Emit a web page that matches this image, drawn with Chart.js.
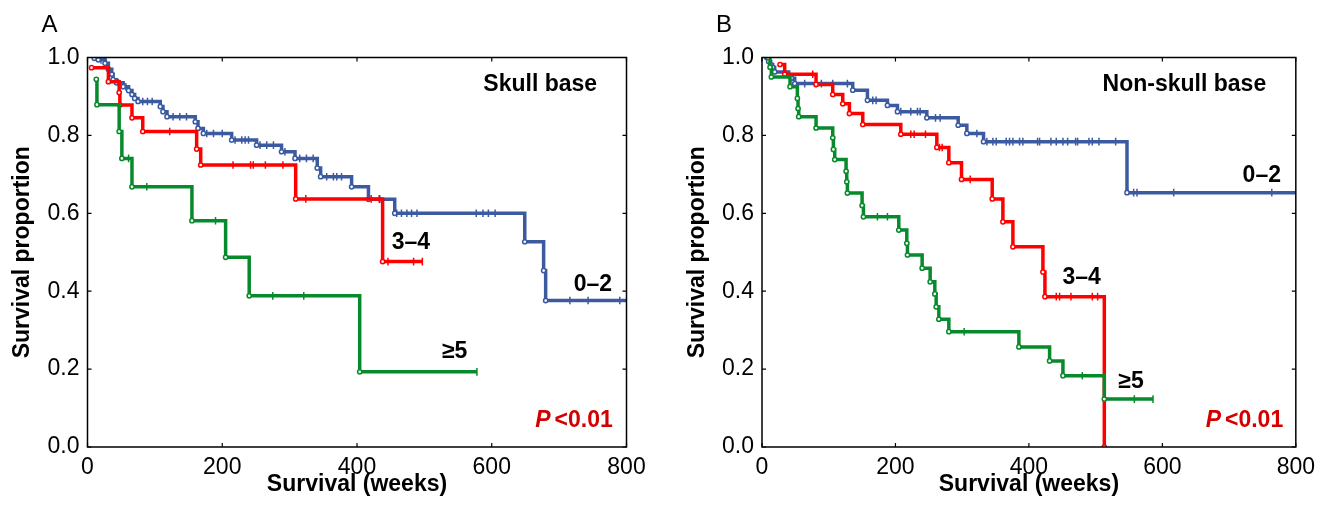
<!DOCTYPE html>
<html><head><meta charset="utf-8">
<script src="https://cdn.jsdelivr.net/npm/chart.js@4.4.1/dist/chart.umd.min.js"></script>
<style>
html,body{margin:0;padding:0;background:#fff;}
#wrap{position:relative;width:1322px;height:506px;overflow:hidden;background:#fff;}
canvas{position:absolute;top:0;}
</style></head><body>
<div id="wrap">
<canvas id="cA" width="661" height="506" style="left:0px;width:661px;height:506px"></canvas>
<canvas id="cB" width="661" height="506" style="left:661px;width:661px;height:506px"></canvas>
</div>
<script>
// ---------- tick labels ----------
const xTicks = [0, 200, 400, 600, 800];
const yTicks = [0, 0.2, 0.4, 0.6, 0.8, 1.0];
const groupNames = ['0–2', '3–4', '≥5'];

// ---------- Panel A: Skull base ----------
const aG02_t = [10,16,26,31,36,38,43,53,61,66,70,75,108,112,118,160,164,172,214,251,288,308,341,346,392,417,456,649,677,680];
const aG02_s = [0.998,0.994,0.985,0.97,0.957,0.943,0.935,0.925,0.915,0.905,0.895,0.887,0.874,0.861,0.848,0.835,0.818,0.805,0.788,0.775,0.758,0.741,0.716,0.694,0.668,0.636,0.600,0.527,0.453,0.376];
const aG02_cens = [20,28,46,57,82,89,96,127,137,147,177,187,200,219,229,234,239,256,266,276,293,315,325,335,355,365,370,377,434,459,466,474,481,489,577,587,595,605,716,743,790];
const aG02_end = 800;

const aG34_t = [6,31,47,48,66,82,162,168,309,438];
const aG34_s = [0.974,0.938,0.91,0.878,0.845,0.81,0.765,0.724,0.637,0.476];
const aG34_cens = [122,216,242,246,264,290,324,421,433,446,484,497];
const aG34_end = 497;

const aG5_t = [13,14,47,51,66,155,205,240,404];
const aG5_s = [0.944,0.879,0.81,0.741,0.668,0.581,0.487,0.388,0.193];
const aG5_cens = [61,88,190,275,321,578];
const aG5_end = 578;

// ---------- Panel B: Non-skull base ----------
const bG02_t = [7,10,13,16,19,40,44,49,136,158,188,203,247,294,307,332,547];
const bG02_s = [1.0,0.99,0.982,0.975,0.963,0.955,0.947,0.933,0.916,0.89,0.877,0.861,0.845,0.826,0.805,0.784,0.653];
const bG02_cens = [64,81,89,106,128,166,171,208,223,233,237,260,267,322,337,346,351,366,371,376,386,391,413,416,433,441,451,458,470,473,490,495,505,530,557,562,617,764];
const bG02_end = 800;

const bG34_t = [27,34,81,106,121,131,151,208,262,280,299,345,361,376,421,424,513];
const bG34_s = [0.982,0.957,0.931,0.905,0.881,0.856,0.828,0.803,0.769,0.73,0.687,0.637,0.578,0.514,0.449,0.386,0];
const bG34_cens = [76,223,228,245,266,270,312,441,446,463,495,503];
const bG34_end = 513;

const bG5_t = [9,12,14,42,53,54,55,81,106,107,109,126,127,128,150,152,205,217,218,240,252,259,261,265,280,385,431,451,513];
const bG5_s = [1.0,0.975,0.95,0.925,0.895,0.869,0.848,0.819,0.794,0.764,0.738,0.708,0.681,0.652,0.62,0.591,0.557,0.523,0.493,0.459,0.424,0.393,0.36,0.328,0.296,0.257,0.221,0.183,0.123];
const bG5_cens = [173,188,303,480,558,586];
const bG5_end = 586;

// ---------- styles ----------
const COLORS = {g02: '#3b5aa0', g34: '#ff0000', g5: '#078a2c'};
const FONT = '"Liberation Sans", Arial, sans-serif';

function levelAt(t, times, surv) {
  let v = surv[0];
  for (let i = 0; i < times.length; i++) { if (times[i] <= t) v = surv[i]; }
  return v;
}
function kmDatasets(times, surv, cens, end, color) {
  const pts = times.map((t, i) => ({x: t, y: surv[i]}));
  const radii = times.map(() => 2.1);
  if (end > times[times.length - 1]) { pts.push({x: end, y: surv[surv.length - 1]}); radii.push(0); }
  const line = {
    type: 'line', data: pts, stepped: 'before', borderColor: color, borderWidth: 3.5,
    pointRadius: radii, pointStyle: 'circle', pointBorderColor: color, pointBackgroundColor: '#ffffff',
    pointBorderWidth: 1.5, fill: false, tension: 0
  };
  const ticks = {
    type: 'scatter', data: cens.map(t => ({x: t, y: levelAt(t, times, surv)})),
    pointStyle: 'line', rotation: 90, pointRadius: 3.8, borderColor: color, pointBorderColor: color,
    pointBorderWidth: 1.5, showLine: false
  };
  return [line, ticks];
}

const deco = {
  id: 'deco',
  afterDatasetsDraw(chart, args, opts) {
    const ctx = chart.ctx;
    const {left, right, top, bottom} = chart.chartArea;
    const x = chart.scales.x, y = chart.scales.y;
    ctx.save();
    ctx.strokeStyle = '#000';
    ctx.lineWidth = 1.5;
    ctx.strokeRect(left, top, right - left, bottom - top);
    ctx.lineWidth = 1.2;
    ctx.beginPath();
    xTicks.forEach(v => {
      const px = x.getPixelForValue(v);
      ctx.moveTo(px, bottom); ctx.lineTo(px, bottom - 4);
      ctx.moveTo(px, top); ctx.lineTo(px, top + 4);
    });
    yTicks.forEach(v => {
      const py = y.getPixelForValue(v);
      ctx.moveTo(left, py); ctx.lineTo(left + 4, py);
      ctx.moveTo(right, py); ctx.lineTo(right - 4, py);
    });
    ctx.stroke();

    ctx.fillStyle = '#000';
    ctx.font = '24px ' + FONT;
    ctx.textAlign = 'left'; ctx.textBaseline = 'alphabetic';
    ctx.fillText(opts.letter, left - 46, 32);
    ctx.font = 'bold 23px ' + FONT;
    ctx.textAlign = 'center';
    ctx.fillText('Survival (weeks)', (left + right) / 2, 491);
    ctx.save();
    ctx.translate(left - 64.5, (top + bottom) / 2);
    ctx.rotate(-Math.PI / 2);
    ctx.textBaseline = 'middle';
    ctx.fillText('Survival proportion', 0, 0);
    ctx.restore();
    ctx.textBaseline = 'middle';
    opts.labels.forEach(l => {
      ctx.font = 'bold 23px ' + FONT;
      ctx.fillStyle = '#000';
      ctx.textAlign = 'center';
      ctx.fillText(l.text, x.getPixelForValue(l.x), y.getPixelForValue(l.y));
    });
    const pc = opts.pval;
    const cx = x.getPixelForValue(pc.x), cy = y.getPixelForValue(pc.y);
    ctx.fillStyle = '#d40000';
    ctx.textAlign = 'left';
    ctx.font = 'italic bold 23px ' + FONT;
    const wP = ctx.measureText('P').width;
    ctx.font = 'bold 23px ' + FONT;
    const wR = ctx.measureText('<0.01').width;
    const gap = 4;
    const sx = cx - (wP + gap + wR) / 2;
    ctx.font = 'italic bold 23px ' + FONT;
    ctx.fillText('P', sx, cy);
    ctx.font = 'bold 23px ' + FONT;
    ctx.fillText('<0.01', sx + wP + gap, cy);
    ctx.restore();
  }
};

function makeChart(id, series, yWidth, padRight, decoOpts) {
  const datasets = [];
  series.forEach(s => datasets.push(...kmDatasets(s[0], s[1], s[2], s[3], s[4])));
  return new Chart(document.getElementById(id), {
    type: 'line',
    data: {datasets},
    plugins: [deco],
    options: {
      responsive: false, animation: false, devicePixelRatio: 1,
      layout: {padding: {left: 0, top: 57.5, right: padRight, bottom: 0}},
      plugins: {legend: {display: false}, tooltip: {enabled: false}, deco: decoOpts},
      scales: {
        x: {
          type: 'linear', min: 0, max: 800,
          afterBuildTicks: s => { s.ticks = xTicks.map(v => ({value: v})); },
          afterFit: s => { s.height = 59; },
          grid: {display: false, drawTicks: false}, border: {display: false},
          ticks: {padding: 7, color: '#000', font: {family: FONT, size: 23}, maxRotation: 0, autoSkip: false}
        },
        y: {
          type: 'linear', min: 0, max: 1,
          afterBuildTicks: s => { s.ticks = yTicks.map(v => ({value: v})); },
          afterFit: s => { s.width = yWidth; },
          grid: {display: false, drawTicks: false}, border: {display: false},
          ticks: {padding: 8, color: '#000', font: {family: FONT, size: 23}, callback: v => Number(v).toFixed(1)}
        }
      }
    }
  });
}

makeChart('cA', [
  [aG5_t, aG5_s, aG5_cens, aG5_end, COLORS.g5],
  [aG34_t, aG34_s, aG34_cens, aG34_end, COLORS.g34],
  [aG02_t, aG02_s, aG02_cens, aG02_end, COLORS.g02]
], 87.5, 34.5, {
  letter: 'A',
  labels: [
    {text: 'Skull base', x: 672, y: 0.929},
    {text: groupNames[1], x: 480, y: 0.524},
    {text: groupNames[0], x: 750, y: 0.418},
    {text: groupNames[2], x: 545, y: 0.244}
  ],
  pval: {x: 722, y: 0.067}
});

makeChart('cB', [
  [bG5_t, bG5_s, bG5_cens, bG5_end, COLORS.g5],
  [bG34_t, bG34_s, bG34_cens, bG34_end, COLORS.g34],
  [bG02_t, bG02_s, bG02_cens, bG02_end, COLORS.g02]
], 101, 22, {
  letter: 'B',
  labels: [
    {text: 'Non-skull base', x: 633, y: 0.929},
    {text: groupNames[0], x: 749, y: 0.696},
    {text: groupNames[1], x: 479, y: 0.434},
    {text: groupNames[2], x: 553, y: 0.169}
  ],
  pval: {x: 723, y: 0.067}
});
</script>
</body></html>
